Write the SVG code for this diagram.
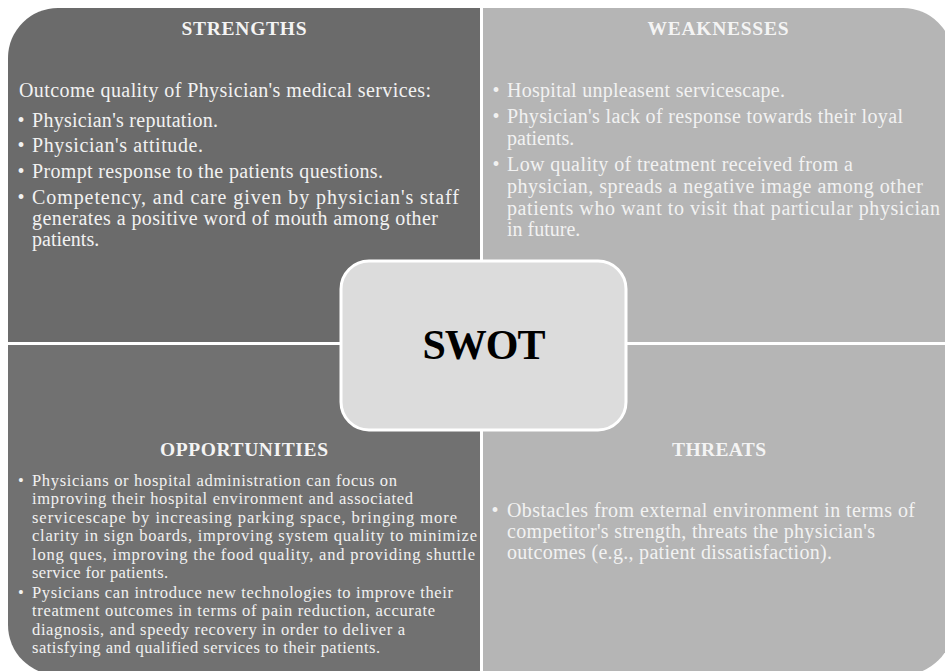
<svg xmlns="http://www.w3.org/2000/svg" width="945" height="671" viewBox="0 0 945 671">
  <style>
    .head { font-family: "Liberation Serif", "Times New Roman", serif; font-weight: bold; font-size: 19.5px; fill: #f4f4f4; text-anchor: middle; }
    .body { font-family: "Liberation Serif", "Times New Roman", serif; font-size: 20px; fill: #f2f2f2; }
    .small { font-family: "Liberation Serif", "Times New Roman", serif; font-size: 16.5px; fill: #f2f2f2; }
    .dot { text-anchor: middle; }
    .dark { fill: #6b6b6b; }
    .dark2 { fill: #717171; }
    .light { fill: #b5b5b5; }
    .core { fill: #dcdcdc; stroke: #ffffff; stroke-width: 3; }
    .title { font-family: "Liberation Serif", "Times New Roman", serif; font-weight: bold; font-size: 42px; fill: #000; text-anchor: middle; }
  </style>
  <rect width="945" height="671" fill="#ffffff"/>

  <!-- Strengths -->
  <g id="strengths">
    <path class="dark" d="M8,342 V58 A50,50 0 0 1 58,8 H480 V342 Z"/>
    <text class="head" x="244" y="35" textLength="125">STRENGTHS</text>
    <text class="body" x="19" y="97" textLength="412">Outcome quality of Physician's medical services:</text>
    <text class="body dot" x="21" y="127">•</text>
    <text class="body" x="32" y="127" textLength="186">Physician's reputation.</text>
    <text class="body dot" x="21" y="152">•</text>
    <text class="body" x="32" y="152" textLength="171">Physician's  attitude.</text>
    <text class="body dot" x="21" y="178">•</text>
    <text class="body" x="32" y="178" textLength="351">Prompt response to the patients questions.</text>
    <text class="body dot" x="21" y="204">•</text>
    <text class="body" x="32" y="204" textLength="427">Competency, and care given by physician's staff</text>
    <text class="body" x="32" y="225" textLength="406">generates a positive word of mouth among other</text>
    <text class="body" x="32" y="246">patients.</text>
  </g>

  <!-- Weaknesses -->
  <g id="weaknesses">
    <path class="light" d="M483,8 H903 A50,50 0 0 1 953,58 V342 H483 Z"/>
    <text class="head" x="718" y="35" textLength="141">WEAKNESSES</text>
    <text class="body dot" x="496" y="97">•</text>
    <text class="body" x="507" y="97" textLength="278">Hospital unpleasent servicescape.</text>
    <text class="body dot" x="496" y="123">•</text>
    <text class="body" x="507" y="123" textLength="396">Physician's lack of response towards their loyal</text>
    <text class="body" x="507" y="145">patients.</text>
    <text class="body dot" x="496" y="171">•</text>
    <text class="body" x="507" y="171" textLength="346">Low quality of treatment received from a</text>
    <text class="body" x="507" y="193" textLength="416">physician, spreads a negative image among other</text>
    <text class="body" x="507" y="215" textLength="433">patients who want to visit that particular physician</text>
    <text class="body" x="507" y="236">in future.</text>
  </g>

  <!-- Opportunities -->
  <g id="opportunities">
    <path class="dark2" d="M8,345 H480 V675 H58 A50,50 0 0 1 8,625 Z"/>
    <text class="head" x="244" y="456" textLength="168">OPPORTUNITIES</text>
    <text class="small dot" x="21" y="486">•</text>
    <text class="small" x="32" y="486" textLength="365">Physicians or hospital administration can focus on</text>
    <text class="small" x="32" y="504.4" textLength="381">improving their hospital environment and associated</text>
    <text class="small" x="32" y="522.8" textLength="425">servicescape by increasing parking space, bringing more</text>
    <text class="small" x="32" y="541.2" textLength="445">clarity in sign boards, improving system quality to minimize</text>
    <text class="small" x="32" y="559.6" textLength="443">long ques, improving the food quality, and providing shuttle</text>
    <text class="small" x="32" y="578" textLength="136">service for patients.</text>
    <text class="small dot" x="21" y="598">•</text>
    <text class="small" x="32" y="598" textLength="421">Pysicians can introduce new technologies to improve their</text>
    <text class="small" x="32" y="616.4" textLength="403">treatment outcomes in terms of pain reduction, accurate</text>
    <text class="small" x="32" y="634.8" textLength="373">diagnosis, and speedy recovery in order to deliver a</text>
    <text class="small" x="32" y="653.2" textLength="348">satisfying and qualified services to their patients.</text>
  </g>

  <!-- Threats -->
  <g id="threats">
    <path class="light" d="M483,345 H953 V625 A50,50 0 0 1 903,675 H483 Z"/>
    <text class="head" x="719" y="456" textLength="94">THREATS</text>
    <text class="body dot" x="495" y="517">•</text>
    <text class="body" x="507" y="517" textLength="408">Obstacles from external environment in terms of</text>
    <text class="body" x="507" y="538" textLength="368">competitor's strength, threats the physician's</text>
    <text class="body" x="507" y="559" textLength="325">outcomes (e.g., patient dissatisfaction).</text>
  </g>

  <!-- Centre label -->
  <g id="swot">
    <rect class="core" x="341" y="261" width="285" height="169" rx="28" ry="28"/>
    <text class="title" x="484" y="359" textLength="123">SWOT</text>
  </g>
</svg>
